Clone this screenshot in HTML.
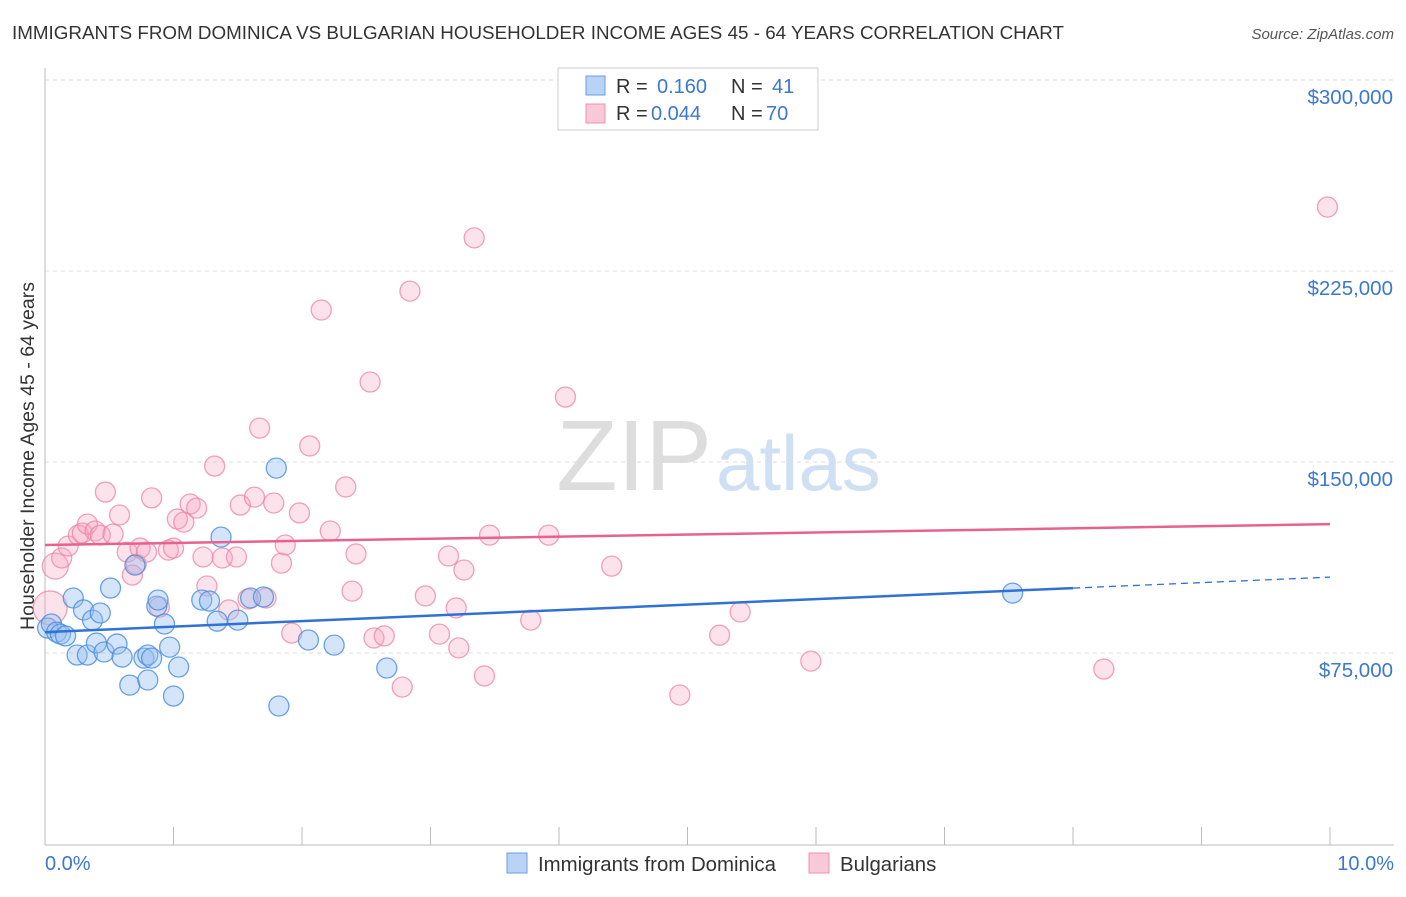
<!DOCTYPE html>
<html><head><meta charset="utf-8"><style>
body{margin:0;background:#fff;font-family:"Liberation Sans",sans-serif;}
svg text{font-family:"Liberation Sans",sans-serif;}
</style></head><body>
<svg id="chart" width="1406" height="892" xmlns="http://www.w3.org/2000/svg">
<text x="12" y="39" font-size="18" fill="#333" textLength="1052" lengthAdjust="spacingAndGlyphs">IMMIGRANTS FROM DOMINICA VS BULGARIAN HOUSEHOLDER INCOME AGES 45 - 64 YEARS CORRELATION CHART</text>
<text x="1394" y="39" font-size="15" fill="#555" font-style="italic" text-anchor="end">Source: ZipAtlas.com</text>
<text x="712" y="490" font-size="100" fill="#ddd" font-family="Liberation Serif" text-anchor="end">ZIP</text>
<text x="716" y="490" font-size="78" fill="#cfe0f4">atlas</text>
<g id="grid"></g>
<line x1="45" y1="68" x2="45" y2="845" stroke="#bbb"/>
<line x1="45" y1="845" x2="1394" y2="845" stroke="#bbb"/>
<g id="xticks"></g>
<text transform="translate(34,456) rotate(-90)" font-size="19.5" fill="#333" text-anchor="middle">Householder Income Ages 45 - 64 years</text>
<text x="45" y="870" font-size="20" fill="#3b78d0">0.0%</text>
<text x="1394" y="870" font-size="20" fill="#3b78d0" text-anchor="end">10.0%</text>
<g id="pts"></g>
<g id="trends"></g>
<g>
<rect x="558" y="68" width="260" height="62" fill="#fff" stroke="#ccc"/>
<rect x="586" y="76" width="19" height="19" fill="#b8d3f5" stroke="#6a9ee0"/>
<rect x="586" y="104" width="19" height="19" fill="#f9c9d8" stroke="#ee90b0"/>
<text x="616" y="93" font-size="20" fill="#333">R = <tspan fill="#3b78d0" x="657">0.160</tspan><tspan x="731">N = </tspan><tspan fill="#3b78d0" x="772">41</tspan></text>
<text x="616" y="120" font-size="20" fill="#333">R = <tspan fill="#3b78d0" x="651">0.044</tspan><tspan x="731">N = </tspan><tspan fill="#3b78d0" x="766">70</tspan></text>
</g>
<g>
<rect x="507" y="853" width="20" height="20" fill="#b8d3f5" stroke="#6a9ee0"/>
<text x="538" y="871" font-size="20.4" fill="#333">Immigrants from Dominica</text>
<rect x="809" y="853" width="20" height="20" fill="#f9c9d8" stroke="#ee90b0"/>
<text x="840" y="871" font-size="20.4" fill="#333">Bulgarians</text>
</g>
</svg>
<script>
const yTicks=[75000,150000,225000,300000];
const yTickLabels=["$75,000","$150,000","$225,000","$300,000"];
const blueX=[0.02,0.05,0.09,0.12,0.16,0.22,0.30,0.25,0.33,0.37,0.40,0.43,0.46,0.51,0.56,0.60,0.66,0.70,0.77,0.80,0.80,0.83,0.87,0.88,0.93,0.97,1.00,1.04,1.22,1.28,1.34,1.37,1.50,1.60,1.70,1.80,1.82,2.05,2.25,2.66,7.53];
const blueY=[84.8,86.4,83.2,82.4,81.7,96.6,91.9,74.2,74.2,87.9,78.9,90.7,75.4,100.5,78.5,73.4,62.4,109.5,73.0,64.4,74.2,73.0,93.4,95.8,86.4,77.3,58.1,69.5,95.8,95.4,87.5,120.5,87.9,96.6,97.0,147.6,54.2,80.1,78.1,69.1,98.5];
const pinkX=[0.04,0.08,0.13,0.18,0.26,0.29,0.33,0.39,0.43,0.47,0.53,0.58,0.64,0.68,0.71,0.74,0.79,0.83,0.89,0.96,1.00,1.03,1.08,1.13,1.18,1.23,1.26,1.32,1.38,1.43,1.49,1.52,1.58,1.63,1.67,1.72,1.78,1.84,1.87,1.92,1.98,2.06,2.15,2.22,2.34,2.39,2.42,2.53,2.56,2.64,2.78,2.84,2.96,3.07,3.14,3.20,3.22,3.26,3.34,3.42,3.46,3.78,3.92,4.05,4.41,4.94,5.25,5.41,5.96,8.24,9.98];
const pinkY=[92.7,109.1,112.3,117.0,121.3,122.1,125.6,122.9,121.3,138.2,121.7,129.2,114.6,105.6,109.9,116.2,114.6,135.9,93.0,115.4,116.2,127.6,126.4,133.5,131.9,112.7,101.3,148.4,112.3,91.9,112.7,133.1,96.2,136.2,163.3,96.6,133.9,110.3,117.4,82.8,130.0,156.3,209.7,122.9,140.2,99.3,113.9,181.4,80.9,81.7,61.6,217.1,97.4,82.4,113.1,92.7,77.0,107.6,238.0,66.0,121.3,87.9,121.3,175.5,109.1,58.5,82.0,91.1,71.8,68.7,250.1];
const blueTrend=[83.2,104.8];
const pinkTrend=[117.4,125.6];
const NS="http://www.w3.org/2000/svg";
const xs=p=>45+p*128.5;
const ys=k=>80+(300-k)*191/75;
function mk(t,a,parent){const e=document.createElementNS(NS,t);for(const k in a)e.setAttribute(k,a[k]);parent.appendChild(e);return e;}
const grid=document.getElementById('grid');
yTicks.forEach((v,i)=>{
 const y=ys(v/1000);
 const l=mk('line',{x1:45,x2:1394,y1:y,y2:y,stroke:'#ddd','stroke-dasharray':'4,4'},grid);
 
 
 const t=mk('text',{x:1393,y:y+24,'font-size':20.5,fill:'#3b78d0','text-anchor':'end'},grid);
 t.textContent=yTickLabels[i];
 
 
});
const xt=document.getElementById('xticks');
for(let i=0;i<=10;i++){
 const l=mk('line',{x1:xs(i),x2:xs(i),y1:827,y2:845,stroke:'#bbb'},xt);
 
 
}
const pts=document.getElementById('pts');
pinkX.forEach((x,i)=>{
 const r=i==0?17:(i==1?13:10);
 const c=mk('circle',{cx:xs(x),cy:ys(pinkY[i]),r:r,fill:'rgba(244,160,190,0.3)',stroke:'rgba(236,130,165,0.75)','stroke-width':1.3},pts);
 
 
});
blueX.forEach((x,i)=>{
 const c=mk('circle',{cx:xs(x),cy:ys(blueY[i]),r:10,fill:'rgba(150,190,240,0.4)',stroke:'rgba(70,140,220,0.8)','stroke-width':1.3},pts);
 
 
});
const tr=document.getElementById('trends');
const bAt=p=>blueTrend[0]+(blueTrend[1]-blueTrend[0])*p/10;
let l1=mk('line',{x1:xs(0),y1:ys(bAt(0)),x2:xs(8),y2:ys(bAt(8)),stroke:'#2f72d4','stroke-width':2.5},tr);


let l2=mk('line',{x1:xs(8),y1:ys(bAt(8)),x2:xs(10),y2:ys(bAt(10)),stroke:'#2f72d4','stroke-width':1.3,'stroke-dasharray':'7,5'},tr);


let l3=mk('line',{x1:xs(0),y1:ys(pinkTrend[0]),x2:xs(10),y2:ys(pinkTrend[1]),stroke:'#e8628f','stroke-width':2.5},tr);


</script>
</body></html>
